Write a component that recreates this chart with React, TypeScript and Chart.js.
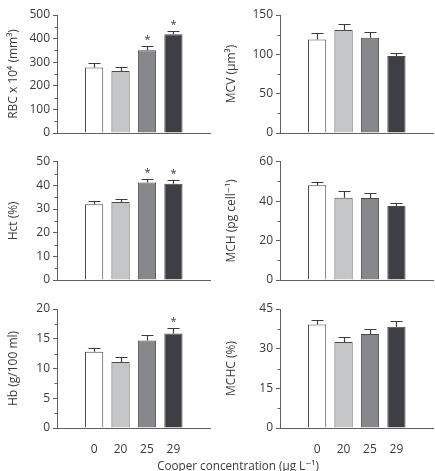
import React, { useEffect, useRef } from "react";
import { Chart, registerables } from "chart.js";

Chart.register(...registerables);

// Copper doses (µg/L) on the shared x axis
const DOSES = ["0", "20", "25", "29"];
const BAR_COLORS = ["#ffffff", "#c5c6c8", "#87888b", "#3e3f44"];

// Red blood cell count (x10^4 / mm3)
const RBC_MEAN = [278, 263, 351, 418];
const RBC_SEM = [17, 17, 16, 15];
const RBC_SIG = [false, false, true, true];

// Mean corpuscular volume (µm3)
const MCV_MEAN = [119, 131, 121, 98];
const MCV_SEM = [8, 7, 7, 4];
const MCV_SIG = [false, false, false, false];

// Haematocrit (%)
const HCT_MEAN = [32, 33, 41.2, 40.7];
const HCT_SEM = [1.6, 1.2, 1.6, 1.5];
const HCT_SIG = [false, false, true, true];

// Mean corpuscular haemoglobin (pg/cell)
const MCH_MEAN = [48, 41.7, 41.6, 37.5];
const MCH_SEM = [1.9, 3.3, 2.7, 1.7];
const MCH_SIG = [false, false, false, false];

// Haemoglobin (g/100 ml)
const HB_MEAN = [12.8, 11.1, 14.7, 15.9];
const HB_SEM = [0.6, 0.8, 1.0, 0.85];
const HB_SIG = [false, false, false, true];

// Mean corpuscular haemoglobin concentration (%)
const MCHC_MEAN = [39.1, 32.5, 35.5, 38.3];
const MCHC_SEM = [1.8, 2.0, 2.0, 2.0];
const MCHC_SIG = [false, false, false, false];

const FONT = "'Open Sans', 'DejaVu Sans', sans-serif";
const TEXT = "#3a3a3c";
const AXIS = "#606062";
const EDGE = "#4a4a4d";

type PanelDef = {
  title: string;
  mean: number[];
  sem: number[];
  sig: boolean[];
  max: number;
  step: number;
  col: number;
  row: number;
};

const PANELS: PanelDef[] = [
  { title: "RBC x 10⁴ (mm³)", mean: RBC_MEAN, sem: RBC_SEM, sig: RBC_SIG, max: 500, step: 100, col: 0, row: 0 },
  { title: "MCV (µm³)", mean: MCV_MEAN, sem: MCV_SEM, sig: MCV_SIG, max: 150, step: 50, col: 1, row: 0 },
  { title: "Hct (%)", mean: HCT_MEAN, sem: HCT_SEM, sig: HCT_SIG, max: 50, step: 10, col: 0, row: 1 },
  { title: "MCH (pg cell⁻¹)", mean: MCH_MEAN, sem: MCH_SEM, sig: MCH_SIG, max: 60, step: 20, col: 1, row: 1 },
  { title: "Hb (g/100 ml)", mean: HB_MEAN, sem: HB_SEM, sig: HB_SIG, max: 20, step: 5, col: 0, row: 2 },
  { title: "MCHC (%)", mean: MCHC_MEAN, sem: MCHC_SEM, sig: MCHC_SIG, max: 45, step: 15, col: 1, row: 2 },
];

// Grid geometry of the figure
const COL_LEFT = [0, 215];
const COL_WIDTH = [215, 220];
const COL_AXIS_W = [57, 65];
const COL_PAD_RIGHT = [5, 2];
const COL_TITLE_PAD = [6, 9.5];
const ROW_TOP = [0, 147, 294];
const ROW_HEIGHT = [147, 147, 170];
const ROW_PAD_TOP = [15, 14.7, 15];
const ROW_XAXIS_H = [14, 14, 36];

function makeErrorBars(sem: number[], sig: boolean[]) {
  return {
    id: "errorBars",
    afterDatasetsDraw(chart: any) {
      const { ctx } = chart;
      const y = chart.scales.y;
      const meta = chart.getDatasetMeta(0);
      const data = chart.data.datasets[0].data as { x: number; y: number }[];
      ctx.save();
      ctx.strokeStyle = "#3c3c3f";
      ctx.lineWidth = 1.2;
      ctx.fillStyle = TEXT;
      ctx.font = `11px ${FONT}`;
      ctx.textAlign = "center";
      ctx.textBaseline = "alphabetic";
      meta.data.forEach((bar: any, i: number) => {
        const top = Math.round(y.getPixelForValue(data[i].y + sem[i])) + 0.5;
        const x = Math.round(bar.x) + 0.5;
        ctx.beginPath();
        ctx.moveTo(x, bar.y);
        ctx.lineTo(x, top);
        ctx.moveTo(x - 6, top);
        ctx.lineTo(x + 6, top);
        ctx.stroke();
        if (sig[i]) ctx.fillText("*", x, top - 4);
      });
      ctx.restore();
    },
  };
}

const minorTicks = {
  id: "minorTicks",
  afterDraw(chart: any) {
    const { ctx } = chart;
    const y = chart.scales.y;
    const ticks = y.ticks;
    ctx.save();
    ctx.strokeStyle = AXIS;
    ctx.lineWidth = 1;
    for (let i = 0; i < ticks.length - 1; i++) {
      const mid = (ticks[i].value + ticks[i + 1].value) / 2;
      const py = Math.round(y.getPixelForValue(mid)) + 0.5;
      ctx.beginPath();
      ctx.moveTo(y.right - 2.5, py);
      ctx.lineTo(y.right, py);
      ctx.stroke();
    }
    ctx.restore();
  },
};

function Panel({ p }: { p: PanelDef }) {
  const ref = useRef<HTMLCanvasElement>(null);
  useEffect(() => {
    const bottomRow = p.row === 2;
    const chart = new Chart(ref.current!, {
      type: "bar",
      data: {
        datasets: [
          {
            data: p.mean.map((v, i) => ({ x: i, y: v })),
            backgroundColor: BAR_COLORS,
            borderColor: EDGE,
            borderWidth: 1,
            categoryPercentage: 1,
            barPercentage: 0.69,
          },
        ],
      },
      options: {
        animation: false,
        responsive: false,
        devicePixelRatio: 1,
        layout: {
          padding: { top: ROW_PAD_TOP[p.row], right: COL_PAD_RIGHT[p.col], left: 0, bottom: 0 },
        },
        plugins: { legend: { display: false }, tooltip: { enabled: false } },
        scales: {
          x: {
            type: "linear",
            min: -0.68,
            max: 3.66,
            afterBuildTicks: (s: any) => {
              s.ticks = DOSES.map((_, i) => ({ value: i }));
            },
            afterFit: (s: any) => {
              s.height = ROW_XAXIS_H[p.row];
            },
            grid: { display: false },
            border: { color: AXIS, width: 1 },
            ticks: {
              display: bottomRow,
              callback: (v: any) => DOSES[v],
              font: { family: FONT, size: 12 },
              color: TEXT,
              padding: 6,
              maxRotation: 0,
            },
          },
          y: {
            min: 0,
            max: p.max,
            afterFit: (s: any) => {
              s.width = COL_AXIS_W[p.col];
            },
            ticks: {
              stepSize: p.step,
              font: { family: FONT, size: 12 },
              color: TEXT,
              padding: 3,
            },
            grid: { drawOnChartArea: false, tickLength: 4, color: AXIS },
            border: { color: AXIS, width: 1 },
            title: {
              display: true,
              text: p.title,
              font: { family: FONT, size: 12 },
              color: TEXT,
              padding: { top: COL_TITLE_PAD[p.col], bottom: 0 },
            },
          },
        },
      } as any,
      plugins: [makeErrorBars(p.sem, p.sig), minorTicks],
    });
    return () => chart.destroy();
  }, [p]);
  return (
    <canvas
      ref={ref}
      width={COL_WIDTH[p.col]}
      height={ROW_HEIGHT[p.row]}
      style={{
        position: "absolute",
        left: COL_LEFT[p.col],
        top: ROW_TOP[p.row],
        width: COL_WIDTH[p.col],
        height: ROW_HEIGHT[p.row],
      }}
    />
  );
}

export default function App() {
  return (
    <div style={{ position: "absolute", left: 0, top: 0, width: 435, height: 471, background: "#fff" }}>
      {PANELS.map((p) => (
        <Panel key={p.title} p={p} />
      ))}
      <div
        style={{
          position: "absolute",
          left: 138,
          width: 200,
          top: 458,
          textAlign: "center",
          fontFamily: FONT,
          fontSize: 11.7,
          lineHeight: "14px",
          color: TEXT,
          whiteSpace: "nowrap",
        }}
      >
        Cooper concentration (µg L⁻¹)
      </div>
    </div>
  );
}
